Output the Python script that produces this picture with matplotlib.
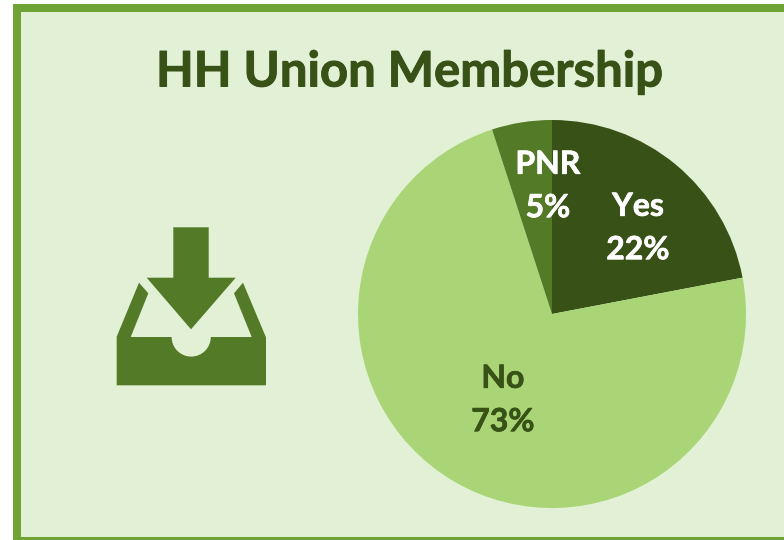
import matplotlib
matplotlib.use("Agg")
import matplotlib.pyplot as plt
import matplotlib.patheffects as pe
from matplotlib.patches import Polygon, Rectangle, Wedge

categories = ["Yes", "No", "PNR"]
values = [22, 73, 5]
slice_colors = ["#375116", "#A9D577", "#537A26"]
label_colors = ["white", "#375116", "white"]
title = "HH Union Membership"

W, H = 784, 540
plt.rcParams['font.family'] = ['Lato', 'DejaVu Sans']

fig = plt.figure(figsize=(W / 100, H / 100), dpi=100)
ax = fig.add_axes([0, 0, 1, 1])

# panel with thick border, runs off the right and bottom edges
ax.add_patch(Rectangle((17, -1), W, 533, facecolor="#E2F0D5", edgecolor="#6FA335", linewidth=5.76, zorder=0))

ax.pie(values, colors=slice_colors, startangle=90, counterclock=False,
       center=(552, H - 314), radius=194, frame=True)
ax.set_xlim(0, W)
ax.set_ylim(0, H)
ax.axis("off")

ax.text(409.5, H - 72, title, color="#375116", fontsize=35.3, fontweight="bold", ha="center", va="center",
        path_effects=[pe.withStroke(linewidth=0.7, foreground="#375116")])

label_pos = [(638, 228), (503, 400), (548, 186)]
for cat, val, col, pos in zip(categories, values, label_colors, label_pos):
    ax.text(pos[0], H - pos[1], "{}\n{}%".format(cat, val), color=col, fontsize=23,
            fontweight="bold", ha="center", va="center", linespacing=1.6,
            path_effects=[pe.withStroke(linewidth=0.5, foreground=col)])

# inbox icon
icon = "#537A26"
def flip(pts):
    return [(x, H - y) for x, y in pts]

ax.add_patch(Polygon(flip([(173.3, 227.3), (208.7, 227.3), (208.7, 277.7), (235.7, 277.7),
                           (191, 329.3), (146.7, 277.7), (173.3, 277.7)]), color=icon, lw=0))
ax.add_patch(Polygon(flip([(116.7, 385.3), (116.7, 336.7), (139, 282.7), (148.3, 293.3), (130.7, 337),
                           (251.7, 337), (234, 293.3), (243, 282.7), (265.7, 336.7), (265.7, 385.3)]),
                     color=icon, lw=0))
ax.add_patch(Rectangle((116.7, H - 385.3), 149, 48.3, color=icon, lw=0))
ax.add_patch(Wedge((191.2, H - 337), 19.6, 180, 360, color="#E2F0D5", lw=0))

fig.savefig("out.png", dpi=100, facecolor="white")
